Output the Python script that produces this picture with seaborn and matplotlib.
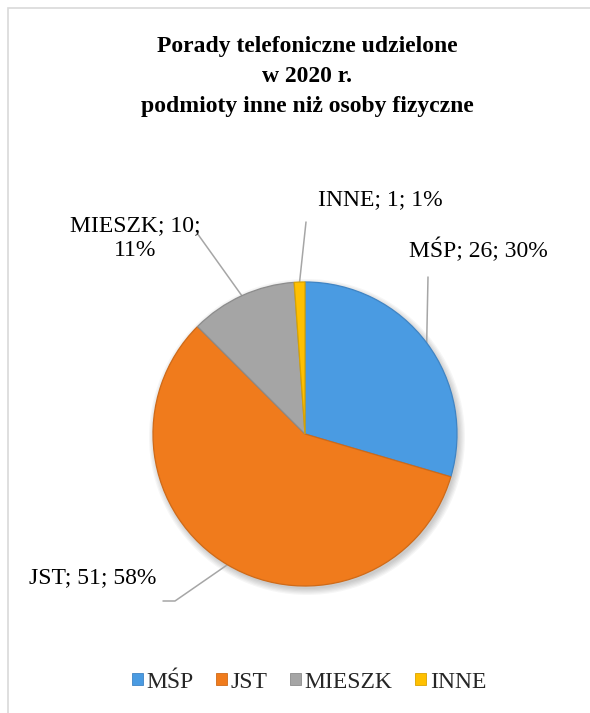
import matplotlib
matplotlib.use("Agg")
import matplotlib.pyplot as plt
import seaborn as sns
import numpy as np
from matplotlib.patches import Patch, Rectangle, Circle

# ---- data ----
categories = ["MŚP", "JST", "MIESZK", "INNE"]
values = [26, 51, 10, 1]
title_lines = ["Porady telefoniczne udzielone", "w 2020 r.", "podmioty inne niż osoby fizyczne"]

# ---- style ----
colors = ["#4A9BE2", "#F07B1C", "#A5A5A5", "#FFC000"]
edge_colors = ["#3F84C4", "#CF6A18", "#8C8C8C", "#D9A300"]

sns.set_theme(style="white")
plt.rcParams["font.family"] = ["Liberation Serif", "DejaVu Serif"]

W, H, DPI = 590, 713, 100
fig = plt.figure(figsize=(W / DPI, H / DPI), dpi=DPI)
fig.patch.set_facecolor("white")

cx, cy, R = 305, 434, 152
half = 240
ax = fig.add_axes([(cx - half) / W, (H - cy - half) / H, 2 * half / W, 2 * half / H])

# soft shadow under the pie
for k in range(6):
    ax.add_patch(Circle((2 / R, -3 / R), 1 + k * 1.2 / R, color="black",
                        alpha=0.035, lw=0, zorder=0))

wedges, _ = ax.pie(values, colors=colors, startangle=90, counterclock=False,
                   radius=1, wedgeprops=dict(linewidth=0.9, zorder=2))
for w, ec in zip(wedges, edge_colors):
    w.set_edgecolor(ec)
lim = half / R
ax.set_xlim(-lim, lim)
ax.set_ylim(-lim, lim)
ax.set_aspect("equal")
ax.axis("off")


def to_data(px, py):
    return (px - cx) / R, (cy - py) / R


total = sum(values)
pcts = [round(v / total * 100) for v in values]
wrap = {"MIESZK"}
label_pos = [(478, 250), (93, 578), (135, 238), (380, 200)]
leader_pts = [[(428, 277)], [(163, 601), (175, 601)], [(197, 233)], [(306, 222)]]

for w, c, v, p, lp, pts in zip(wedges, categories, values, pcts, label_pos, leader_pts):
    txt = f"{c}; {v};\n{p}%" if c in wrap else f"{c}; {v}; {p}%"
    tx, ty = to_data(*lp)
    ax.text(tx, ty, txt, ha="center", va="center", fontsize=17, color="#000000",
            linespacing=1.2, clip_on=False)
    mid = np.deg2rad((w.theta1 + w.theta2) / 2)
    xs = [to_data(*q)[0] for q in pts] + [np.cos(mid)]
    ys = [to_data(*q)[1] for q in pts] + [np.sin(mid)]
    ax.plot(xs, ys, color="#A6A6A6", lw=1.1, clip_on=False, zorder=1)

# title
baselines = [52, 82, 112]
for line, b in zip(title_lines, baselines):
    fig.text(307 / W, 1 - b / H, line, ha="center", va="baseline", fontsize=17,
             fontweight="bold", color="#000000")

# legend
handles = [Patch(facecolor=col, edgecolor=ec, linewidth=0.6) for col, ec in zip(colors, edge_colors)]
fig.legend(handles, categories, loc="center", bbox_to_anchor=(309 / W, 1 - 682 / H),
           ncol=4, frameon=False, fontsize=17, handlelength=0.47, handleheight=0.42,
           handletextpad=0.15, columnspacing=0.95, borderaxespad=0, borderpad=0)

# chart area border (cropped at right/bottom)
fig.add_artist(Rectangle((8 / W, -0.1), 2, 1 - 8 / H + 0.1, transform=fig.transFigure,
                         fill=False, edgecolor="#D9D9D9", lw=1.2, clip_on=False))

fig.savefig("out.png", dpi=DPI, facecolor="white")
